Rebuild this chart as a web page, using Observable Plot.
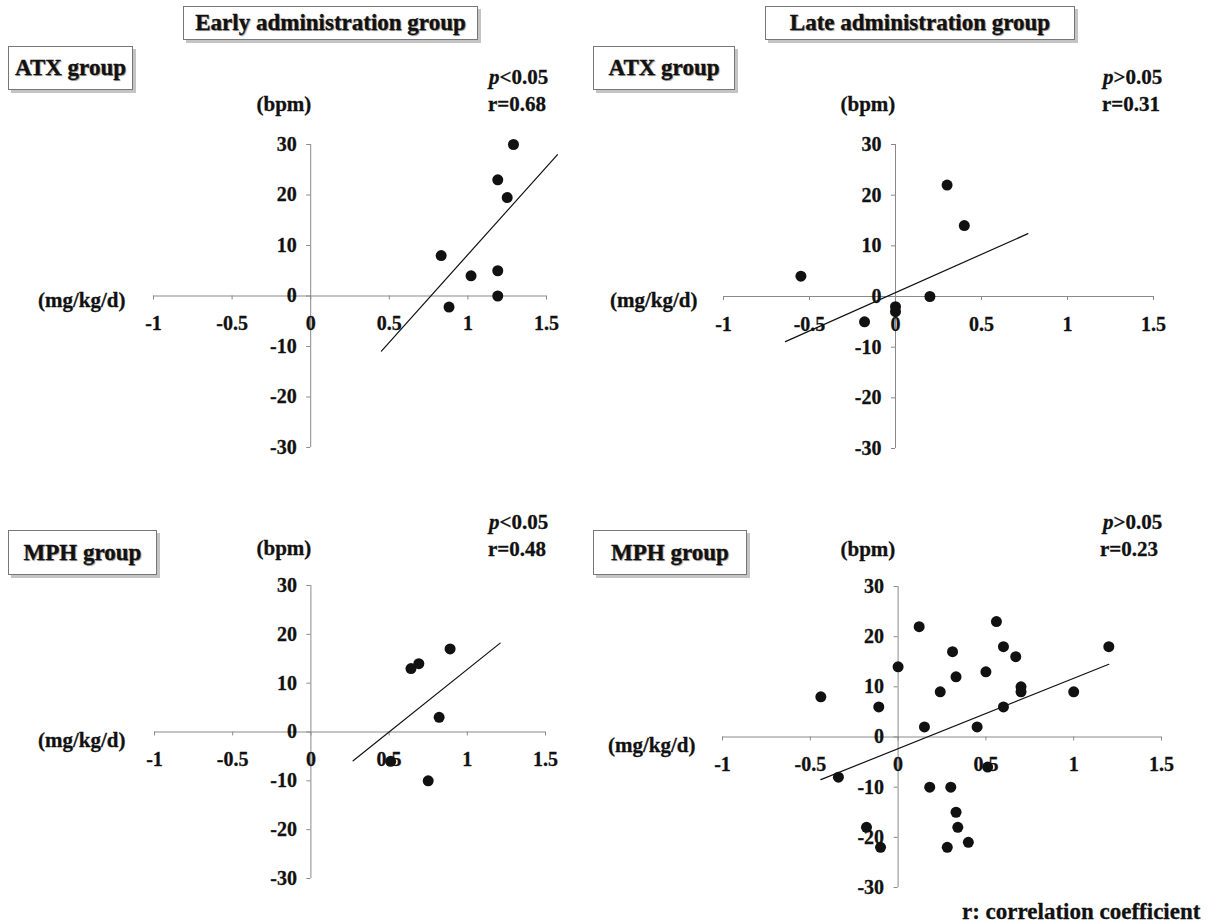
<!DOCTYPE html>
<html>
<head>
<meta charset="utf-8">
<script src="https://cdn.jsdelivr.net/npm/d3@7"></script>
<script src="https://cdn.jsdelivr.net/npm/@observablehq/plot@0.6"></script>
<style>
  html, body { margin: 0; padding: 0; background: #fff; }
  #root { position: relative; width: 1212px; height: 922px; overflow: hidden;
          font-family: "Liberation Serif", "Times New Roman", serif; font-weight: bold; color: #111; }
  .box { position: absolute; box-sizing: border-box; border: 1px solid #777; background: #fff;
         box-shadow: 3px 3px 0 #c4c4c4; display: flex; align-items: center; justify-content: center;
         font-size: 23px; text-shadow: 1px 1px 1px #999; -webkit-text-stroke: 0.3px #111; }
  .lbl { position: absolute; font-size: 21px; line-height: 1; white-space: nowrap; -webkit-text-stroke: 0.3px #111; }
  .lbl.big { font-size: 23px; }
  .panel { position: absolute; overflow: visible; }
  .panel svg { overflow: visible; }
</style>
</head>
<body>
<div id="root"></div>
<script>
// ---------- data ----------
const xTickValues = [-1, -0.5, 0, 0.5, 1, 1.5];
const xTickLabels = ["-1", "-0.5", "0", "0.5", "1", "1.5"];
const yTickValues = [30, 20, 10, 0, -10, -20, -30];
const yTickLabels = ["30", "20", "10", "0", "-10", "-20", "-30"];

// Early administration, ATX group
const earlyAtxX = [1.29, 1.19, 1.25, 0.83, 1.02, 1.19, 1.19, 0.88];
const earlyAtxY = [30, 23, 19.5, 8, 4, 5, 0, -2.2];
const earlyAtxFitX = [0.45, 1.57];
const earlyAtxFitY = [-10.9, 28];

// Late administration, ATX group
const lateAtxX = [-0.55, 0.3, 0.4, 0.2, -0.18, 0, 0];
const lateAtxY = [4, 22, 14, 0, -5, -2, -3];
const lateAtxFitX = [-0.64, 0.77];
const lateAtxFitY = [-8.9, 12.4];

// Early administration, MPH group
const earlyMphX = [0.64, 0.69, 0.89, 0.82, 0.51, 0.75];
const earlyMphY = [13, 14, 17, 3, -6, -10];
const earlyMphFitX = [0.27, 1.21];
const earlyMphFitY = [-5.9, 18.2];

// Late administration, MPH group
const lateMphX = [-0.44, -0.34, -0.11, -0.18, -0.1, 0, 0.12, 0.15, 0.18, 0.24, 0.31, 0.3, 0.33, 0.33,
                  0.34, 0.28, 0.4, 0.45, 0.5, 0.51, 0.56, 0.6, 0.6, 0.67, 0.7, 0.7, 1.0, 1.2];
const lateMphY = [8, -8, 6, -18, -22, 14, 22, 2, -10, 9, 17, -10, 12, -15,
                  -18, -22, -21, 2, 13, -6, 23, 18, 6, 16, 10, 9, 9, 18];
const lateMphFitX = [-0.44, 1.2];
const lateMphFitY = [-8.5, 14.5];

// ---------- layout ----------
const root = document.getElementById("root");
const FONT = '"Liberation Serif", "Times New Roman", serif';

function zip(xs, ys) { return xs.map((x, i) => ({x, y: ys[i]})); }

function panel({xs, ys, fx, fy, x0px, x1px, y0px, y1px}) {
  const left = x0px - 60, top = y0px - 20;
  const width = (x1px + 30) - left, height = (y1px + 25) - top;
  const xTicks = xTickValues.map((v, i) => ({x: v, y: 0, t: xTickLabels[i]}));
  const yTicks = yTickValues.map((v, i) => ({x: 0, y: v, t: yTickLabels[i]}));
  const chart = Plot.plot({
    width, height,
    marginLeft: x0px - left, marginRight: left + width - x1px,
    marginTop: y0px - top, marginBottom: top + height - y1px,
    x: {domain: [-1, 1.5], axis: null},
    y: {domain: [-30, 30], axis: null},
    style: {fontFamily: FONT, overflow: "visible", background: "transparent"},
    marks: [
      Plot.ruleY([0], {stroke: "#8a8a8a", strokeWidth: 1}),
      Plot.ruleX([0], {stroke: "#8a8a8a", strokeWidth: 1}),
      Plot.ruleX(xTicks, {x: "x", y1: "y", y2: "y", insetBottom: -4, stroke: "#8a8a8a"}),
      Plot.ruleY(yTicks, {y: "y", x1: "x", x2: "x", insetLeft: -4, stroke: "#8a8a8a"}),
      Plot.text(xTicks, {x: "x", y: "y", text: "t", dy: 28, fontSize: 20, fontWeight: "bold", fill: "#111", stroke: "#111", strokeWidth: 0.3}),
      Plot.text(yTicks, {x: "x", y: "y", text: "t", dx: -14, textAnchor: "end", fontSize: 20, fontWeight: "bold", fill: "#111", stroke: "#111", strokeWidth: 0.3}),
      Plot.line(zip(fx, fy), {x: "x", y: "y", stroke: "#111", strokeWidth: 1.2}),
      Plot.dot(zip(xs, ys), {x: "x", y: "y", r: 5.5, fill: "#111", stroke: "none"})
    ]
  });
  const wrap = document.createElement("div");
  wrap.className = "panel";
  wrap.style.left = left + "px";
  wrap.style.top = top + "px";
  wrap.appendChild(chart);
  root.appendChild(wrap);
}

panel({xs: earlyAtxX, ys: earlyAtxY, fx: earlyAtxFitX, fy: earlyAtxFitY, x0px: 153, x1px: 546, y0px: 144, y1px: 447});
panel({xs: lateAtxX, ys: lateAtxY, fx: lateAtxFitX, fy: lateAtxFitY, x0px: 723, x1px: 1153, y0px: 144, y1px: 448});
panel({xs: earlyMphX, ys: earlyMphY, fx: earlyMphFitX, fy: earlyMphFitY, x0px: 154, x1px: 545, y0px: 585, y1px: 878});
panel({xs: lateMphX, ys: lateMphY, fx: lateMphFitX, fy: lateMphFitY, x0px: 722, x1px: 1161, y0px: 586, y1px: 887});

// ---------- text boxes and labels ----------
function box(text, l, t, r, b) {
  const d = document.createElement("div");
  d.className = "box";
  d.style.left = l + "px"; d.style.top = t + "px";
  d.style.width = (r - l) + "px"; d.style.height = (b - t) + "px";
  d.textContent = text;
  root.appendChild(d);
}
function label(html, x, y, anchor, cls) {
  const d = document.createElement("div");
  d.className = "lbl" + (cls ? " " + cls : "");
  d.innerHTML = html;
  root.appendChild(d);
  const w = d.offsetWidth, h = d.offsetHeight;
  const lx = anchor === "end" ? x - w : anchor === "middle" ? x - w / 2 : x;
  d.style.left = lx + "px";
  d.style.top = (y - h / 2) + "px";
}

box("Early administration group", 183, 6, 478, 40);
box("Late administration group", 765, 6, 1075, 40);
box("ATX group", 8, 46, 133, 90);
box("ATX group", 593, 46, 735, 90);
box("MPH group", 8, 530, 157, 575);
box("MPH group", 593, 530, 747, 575);

label("<i>p</i>&lt;0.05", 548, 77, "end");
label("r=0.68", 546, 104, "end");
label("(bpm)", 284, 104, "middle");
label("(mg/kg/d)", 38, 300, "start");

label("<i>p</i>&gt;0.05", 1162, 77, "end");
label("r=0.31", 1160, 104, "end");
label("(bpm)", 868, 104, "middle");
label("(mg/kg/d)", 610, 300, "start");

label("<i>p</i>&lt;0.05", 548, 522, "end");
label("r=0.48", 546, 549, "end");
label("(bpm)", 284, 548, "middle");
label("(mg/kg/d)", 38, 740, "start");

label("<i>p</i>&gt;0.05", 1162, 522, "end");
label("r=0.23", 1158, 549, "end");
label("(bpm)", 868, 549, "middle");
label("(mg/kg/d)", 608, 745, "start");

label("r: correlation coefficient", 1200, 911, "end", "big");
</script>
</body>
</html>
